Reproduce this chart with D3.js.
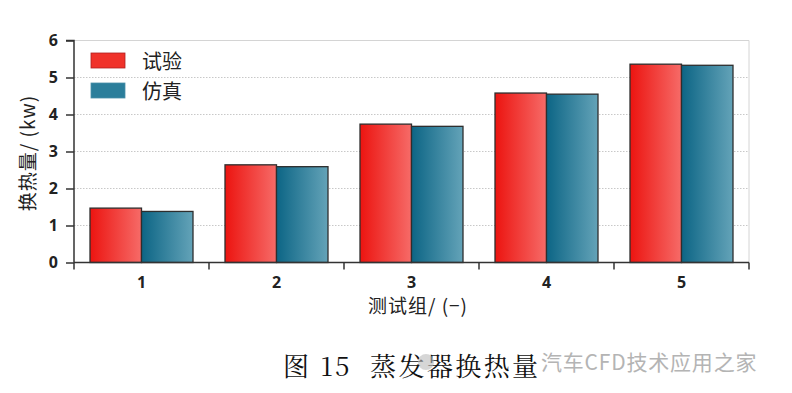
<!DOCTYPE html>
<html>
<head>
<meta charset="utf-8">
<script src="https://cdn.jsdelivr.net/npm/d3@7"></script>
<style>
  body { margin: 0; background: #fff; }
  svg { display: block; }
</style>
</head>
<body>
<div id="chart"></div>
<script>
const groups = ['1', '2', '3', '4', '5'];
const seriesNames = ['试验', '仿真'];
const testValues = [1.47, 2.64, 3.74, 4.58, 5.36];
const simValues = [1.38, 2.59, 3.68, 4.55, 5.33];
const yTicks = [0, 1, 2, 3, 4, 5, 6];

const W = 792, H = 393;
const margin = { top: 40.5, right: 43, bottom: 130.5, left: 74 };
const innerW = W - margin.left - margin.right;
const innerH = H - margin.top - margin.bottom;

const svg = d3.select('#chart').append('svg')
  .attr('width', W).attr('height', H);

const defs = svg.append('defs');
function grad(id, c0, c1) {
  const lg = defs.append('linearGradient').attr('id', id)
    .attr('x1', '0%').attr('x2', '100%').attr('y1', '0%').attr('y2', '0%');
  lg.append('stop').attr('offset', '0%').attr('stop-color', c0);
  lg.append('stop').attr('offset', '100%').attr('stop-color', c1);
}
grad('gRed', '#ec1410', '#f66b68');
grad('gBlue', '#0c6585', '#64a3b8');

const g = svg.append('g').attr('transform', `translate(${margin.left},${margin.top})`);

const x0 = d3.scaleBand().domain(groups).range([0, innerW]).paddingInner(0).paddingOuter(0);
const x1 = d3.scaleBand().domain(seriesNames).range([16, x0.bandwidth() - 16]);
const y = d3.scaleLinear().domain([0, 6]).range([innerH, 0]);

// grid
g.append('g').selectAll('line').data(yTicks.filter(d => d > 0 && d < 6)).join('line')
  .attr('x1', 0).attr('x2', innerW)
  .attr('y1', d => y(d)).attr('y2', d => y(d))
  .attr('stroke', '#c8c8c8').attr('stroke-dasharray', '1.5,1.5');

// frame top/right
g.append('path')
  .attr('d', `M0,${y(6)}H${innerW}V${innerH}`)
  .attr('fill', 'none').attr('stroke', '#d4d4d4');

// bars
const fills = { '试验': 'url(#gRed)', '仿真': 'url(#gBlue)' };
const rows = groups.map((k, i) => ({ k, vals: [
  { s: '试验', v: testValues[i] }, { s: '仿真', v: simValues[i] }] }));
g.append('g').selectAll('g').data(rows).join('g')
  .attr('transform', d => `translate(${x0(d.k)},0)`)
  .selectAll('rect').data(d => d.vals).join('rect')
  .attr('x', d => x1(d.s)).attr('width', x1.bandwidth())
  .attr('y', d => y(d.v)).attr('height', d => innerH - y(d.v))
  .attr('fill', d => fills[d.s]).attr('stroke', '#2e2e2e').attr('stroke-width', 1.3);

// axes
const yAxis = g.append('g').call(d3.axisLeft(y).tickValues(yTicks)
  .tickFormat(d3.format('d')).tickSize(8).tickPadding(8));
const xAxis = g.append('g').attr('transform', `translate(0,${innerH})`)
  .call(d3.axisBottom(x0).tickSize(0).tickPadding(14));
g.append('g').attr('transform', `translate(0,${innerH})`)
  .selectAll('line').data(d3.range(groups.length + 1)).join('line')
  .attr('x1', i => i * x0.bandwidth()).attr('x2', i => i * x0.bandwidth())
  .attr('y1', 0).attr('y2', 7).attr('stroke', '#333').attr('stroke-width', 1.5);
[xAxis, yAxis].forEach(ax => {
  ax.selectAll('path.domain').attr('stroke', '#333').attr('stroke-width', 1.5);
  ax.selectAll('line').attr('stroke', '#333').attr('stroke-width', 1.5);
  ax.selectAll('text').attr('font-family', '"Open Sans", "DejaVu Sans", sans-serif')
    .attr('font-weight', 'bold').attr('font-size', 16).attr('fill', '#222');
});
yAxis.select('path.domain').attr('d', `M-8,${y(6)}H0V${innerH}`);
xAxis.select('path.domain').attr('d', `M0,0H${innerW}`);

// axis titles
const cjk = '"Noto Sans CJK SC", sans-serif';
svg.append('text').attr('transform', 'rotate(-90)')
  .attr('x', -153).attr('y', 35)
  .attr('text-anchor', 'middle').attr('font-family', cjk).attr('font-size', 19)
  .attr('letter-spacing', 1).attr('fill', '#222').text('换热量/ (kw)');
svg.append('text').attr('x', 418).attr('y', 313)
  .attr('text-anchor', 'middle').attr('font-family', cjk).attr('font-size', 19)
  .attr('letter-spacing', 1).attr('fill', '#222').text('测试组/ (−)');

// legend
const legColors = ['#f0322a', '#2b7e9b'];
const leg = svg.append('g').attr('transform', 'translate(91,53)');
seriesNames.forEach((s, i) => {
  leg.append('rect').attr('x', 0).attr('y', i * 30).attr('width', 34).attr('height', 15)
    .attr('fill', legColors[i]).attr('stroke', i ? '#4a90a8' : '#b02020').attr('stroke-width', 0.8);
  leg.append('text').attr('x', 51).attr('y', i * 30 + 16)
    .attr('font-family', cjk).attr('font-size', 20).attr('fill', '#222').text(s);
});

// caption + watermark
svg.append('text').attr('x', 283).attr('y', 376)
  .attr('font-family', '"Noto Serif CJK SC", "Liberation Serif", serif').attr('font-size', 26)
  .attr('letter-spacing', 2.4).attr('fill', '#111').attr('xml:space', 'preserve')
  .style('white-space', 'pre').text('图 15  蒸发器换热量');
svg.append('circle').attr('cx', 426).attr('cy', 362).attr('r', 8).attr('fill', '#bbb').attr('opacity', 0.6);
svg.append('text').attr('x', 541).attr('y', 370)
  .attr('font-family', cjk).attr('font-size', 21).attr('letter-spacing', 0.8)
  .attr('fill', '#b4b4b4').text('汽车CFD技术应用之家');
</script>
</body>
</html>
